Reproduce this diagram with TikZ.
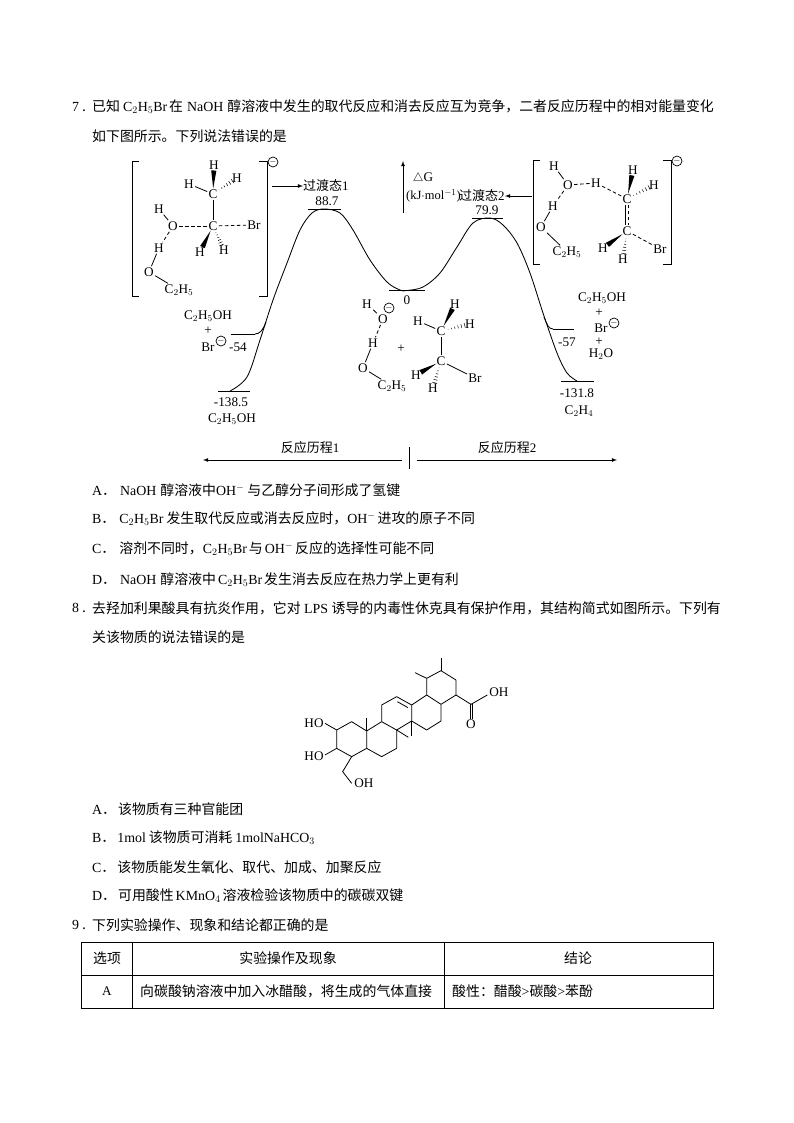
\documentclass[tikz,border=0pt]{standalone}
\usepackage{fontspec}
\setmainfont{Liberation Serif}
\newfontfamily\cjk{Noto Sans CJK SC}
\newfontfamily\ser{Liberation Serif}
\usetikzlibrary{arrows,calc}
\tikzset{
	body/.style={anchor=west,inner sep=0pt,font=\cjk\fontsize{13.9}{16}\selectfont},
	cell/.style={inner sep=0pt,font=\cjk\fontsize{13.9}{16}\selectfont},
	zhlab/.style={inner sep=0pt,font=\cjk\fontsize{13}{15}\selectfont},
	lab/.style={inner sep=0pt,font=\ser\fontsize{13.2}{14}\selectfont},
	atom/.style={inner sep=1.2pt,font=\ser\fontsize{13.2}{14}\selectfont},
	neg/.style={circle,draw,line width=0.7pt,inner sep=0pt,minimum size=10pt,font=\fontsize{9}{9}\selectfont},
	bond/.style={line width=0.8pt},
	hbond/.style={line width=0.8pt,dash pattern=on 3.5pt off 2.5pt},
	level/.style={line width=0.8pt},
	curve/.style={line width=0.85pt,line join=round},
	ruleline/.style={line width=0.9pt}
}
\newcommand{\wedgeb}[2]{
	\coordinate (wa) at ($(#1)!5.5pt!(#2)$);
	\coordinate (wb) at ($(#2)!5.5pt!(#1)$);
	\fill (wa) -- ($(wb)!2.6pt!90:(wa)$) -- ($(wb)!2.6pt!-90:(wa)$) -- cycle;
}
\newcommand{\hashb}[2]{
	\coordinate (wa) at ($(#1)!5.5pt!(#2)$);
	\coordinate (wb) at ($(#2)!5.5pt!(#1)$);
	\coordinate (wl) at ($(wb)!2.4pt!90:(wa)$);
	\coordinate (wr) at ($(wb)!2.4pt!-90:(wa)$);
	\foreach \t in {0.1,0.28,0.46,0.64,0.82,1} \draw [line width=0.5pt] ($(wa)!\t!(wl)$) -- ($(wa)!\t!(wr)$);
}
\begin{document}
\begin{tikzpicture}[x=1pt,y=-1pt]
	\useasboundingbox (0,0) rectangle (794,1123);
	\fill [white] (0,0) rectangle (794,1123);
	% question 7
	\node [body] (q7a) at (72,107) {{\ser 7}\hspace{3pt}.};
	\node [body] (q7b) at (92,107) {已知\hspace{3pt}{\ser C$_2$H$_5$Br}\hspace{2pt}在\hspace{4pt}{\ser NaOH}\hspace{4pt}醇溶液中发生的取代反应和消去反应互为竞争，二者反应历程中的相对能量变化};
	\node [body] (q7c) at (92,136) {如下图所示。下列说法错误的是};
	% left transition state
	\draw [bond] (139,161) -- (132,161) -- (132,296) -- (139,296);
	\draw [bond] (259,161) -- (267,161) -- (267,296) -- (259,296);
	\node [neg] (tsaneg) at (273,162) {$-$};
	\node [atom] (tsah1) at (214,165) {H};
	\node [atom] (tsah2) at (189,184) {H};
	\node [atom] (tsah3) at (237,178) {H};
	\node [atom] (tsac1) at (213,194) {C};
	\node [atom] (tsac2) at (213,226) {C};
	\node [atom] (tsabr) at (254,225) {Br};
	\node [atom] (tsao1) at (173,226) {O};
	\node [atom] (tsah4) at (159,209) {H};
	\node [atom] (tsah5) at (159,248) {H};
	\node [atom] (tsao2) at (149,272) {O};
	\node [atom] (tsaet) at (179,290) {C$_2$H$_5$};
	\node [atom] (tsah6) at (200,252) {H};
	\node [atom] (tsah7) at (224,250) {H};
	\draw [bond] (tsah2) -- (tsac1);
	\draw [bond] (tsac1) -- (tsac2);
	\draw [hbond] (tsao1) -- (tsac2);
	\draw [hbond] (tsac2) -- (tsabr);
	\draw [bond] (tsah4) -- (tsao1);
	\draw [hbond] (tsao1) -- (tsah5);
	\draw [bond] (tsah5) -- (tsao2);
	\draw [bond] (tsao2) -- (tsaet);
	\wedgeb{tsac1}{tsah1}
	\hashb{tsac1}{tsah3}
	\wedgeb{tsac2}{tsah6}
	\hashb{tsac2}{tsah7}
	% energy profile
	\draw [curve] plot [smooth,tension=0.55] coordinates {(230,391) (247,377) (260,340) (273,300) (287,263) (300,230) (312,213) (324,209) (340,213) (353,230) (370,260) (387,282) (400,290) (407,290.5) (423,287) (440,273) (457,247) (473,223) (490,218) (503,225) (517,243) (530,273) (543,313) (557,353) (567,373) (577,381)};
	\draw [curve] (255,334) .. controls (260,334) and (263,330) .. (266,322);
	\draw [curve] (553,329) .. controls (549,329) and (547,325) .. (544,317);
	\draw [level] (218,391) -- (250,391);
	\draw [level] (231,334) -- (255,334);
	\draw [level] (308,209) -- (341,209);
	\draw [level] (389,290) -- (425,290);
	\draw [level] (472,218) -- (503,218);
	\draw [level] (553,329) -- (574,329);
	\draw [level] (561,381) -- (594,381);
	\coordinate (tsaout) at (272,186);
	\node [zhlab,anchor=west] (tsalab) at (303,186) {过渡态{\ser 1}};
	\draw [bond,-latex] (tsaout) -- (tsalab.west);
	\node [lab] (ea) at (327,201) {88.7};
	\node [lab] (eb) at (407,300) {0};
	\node [lab] (ec) at (487,210) {79.9};
	\node [lab] (ed) at (238,347) {-54};
	\node [lab] (ee) at (231,402) {-138.5};
	\node [lab] (ef) at (567,342) {-57};
	\node [lab] (eg) at (577,393) {-131.8};
	\node [lab] (pa) at (208,316) {C$_2$H$_5$OH};
	\node [lab] (pb) at (208,331) {+};
	\node [lab] (pc) at (208,347) {Br};
	\node [neg] (pcneg) at (221,341) {$-$};
	\node [lab] (pd) at (232,419) {C$_2$H$_5$OH};
	\node [lab] (qa) at (602,298) {C$_2$H$_5$OH};
	\node [lab] (qb) at (599,313) {+};
	\node [lab] (qc) at (601,328) {Br};
	\node [neg] (qcneg) at (614,323) {$-$};
	\node [lab] (qd) at (599,342) {+};
	\node [lab] (qe) at (601,354) {H$_2$O};
	\node [lab] (qf) at (579,411) {C$_2$H$_4$};
	% axis
	\coordinate (axisa) at (403,213);
	\coordinate (axisb) at (403,161);
	\draw [bond,-latex] (axisa) -- (axisb);
	\node [lab] (dg) at (423,178) {$\triangle$G};
	\node [lab,anchor=west,font=\ser\fontsize{12.5}{14}\selectfont] (unit) at (406,196) {(kJ$\cdot$mol$^{-1}$)};
	\node [zhlab,anchor=west] (tsblab) at (459,196) {过渡态{\ser 2}};
	% middle species
	\node [atom] (mh1) at (367,304) {H};
	\node [atom] (mo1) at (383,319) {O};
	\node [neg] (moneg) at (389,308) {$-$};
	\node [atom] (mh2) at (373,343) {H};
	\node [atom] (mo2) at (363,368) {O};
	\node [atom] (met) at (392,386) {C$_2$H$_5$};
	\node [lab] (mplus) at (401,349) {+};
	\draw [bond] (mh1) -- (mo1);
	\draw [hbond] (mo1) -- (mh2);
	\draw [bond] (mh2) -- (mo2);
	\draw [bond] (mo2) -- (met);
	\node [atom] (nc1) at (441,331) {C};
	\node [atom] (nc2) at (441,361) {C};
	\node [atom] (nh1) at (455,304) {H};
	\node [atom] (nh2) at (418,321) {H};
	\node [atom] (nh3) at (470,324) {H};
	\node [atom] (nh4) at (416,375) {H};
	\node [atom] (nh5) at (433,388) {H};
	\node [atom] (nbr) at (475,378) {Br};
	\draw [bond] (nh2) -- (nc1);
	\draw [bond] (nc1) -- (nc2);
	\draw [bond] (nc2) -- (nbr);
	\wedgeb{nc1}{nh1}
	\hashb{nc1}{nh3}
	\wedgeb{nc2}{nh4}
	\hashb{nc2}{nh5}
	% right transition state
	\draw [bond] (540,160) -- (533,160) -- (533,264) -- (540,264);
	\draw [bond] (663,160) -- (671,160) -- (671,264) -- (663,264);
	\node [neg] (tsbneg) at (677,161) {$-$};
	\coordinate (tsbout) at (532,196);
	\draw [bond,-latex] (tsbout) -- (tsblab.east);
	\node [atom] (tsbh1) at (554,166) {H};
	\node [atom] (tsbo1) at (568,185) {O};
	\node [atom] (tsbh2) at (596,183) {H};
	\node [atom] (tsbh3) at (553,206) {H};
	\node [atom] (tsbo2) at (541,227) {O};
	\node [atom] (tsbet) at (567,252) {C$_2$H$_5$};
	\node [atom] (tsbc1) at (627,199) {C};
	\node [atom] (tsbc2) at (627,231) {C};
	\node [atom] (tsbh4) at (633,170) {H};
	\node [atom] (tsbh5) at (654,185) {H};
	\node [atom] (tsbh6) at (603,248) {H};
	\node [atom] (tsbh7) at (623,259) {H};
	\node [atom] (tsbbr) at (660,249) {Br};
	\draw [bond] (tsbh1) -- (tsbo1);
	\draw [hbond] (tsbo1) -- (tsbh2);
	\draw [hbond] (tsbo1) -- (tsbh3);
	\draw [bond] (tsbh3) -- (tsbo2);
	\draw [bond] (tsbo2) -- (tsbet);
	\draw [hbond] (tsbh2) -- (tsbc1);
	\draw [bond] ([xshift=-1.3pt]tsbc1.south) -- ([xshift=-1.3pt]tsbc2.north);
	\draw [hbond] ([xshift=1.3pt]tsbc1.south) -- ([xshift=1.3pt]tsbc2.north);
	\draw [hbond] (tsbc2) -- (tsbbr);
	\wedgeb{tsbc1}{tsbh4}
	\hashb{tsbc1}{tsbh5}
	\wedgeb{tsbc2}{tsbh6}
	\hashb{tsbc2}{tsbh7}
	% pathway arrows
	\coordinate (barl) at (402,460);
	\coordinate (endl) at (203,460);
	\coordinate (barr) at (417,460);
	\coordinate (endr) at (617,460);
	\coordinate (bara) at (409,447);
	\coordinate (barb) at (409,469);
	\draw [bond,-latex] (barl) -- (endl);
	\draw [bond,-latex] (barr) -- (endr);
	\draw [line width=1pt] (bara) -- (barb);
	\node [zhlab] (patha) at (310,448) {反应历程{\ser 1}};
	\node [zhlab] (pathb) at (507,448) {反应历程{\ser 2}};
	% options of 7
	\node [body] (o7a) at (92,490) {{\ser A}．\hspace{4pt}{\ser NaOH}\hspace{4pt}醇溶液中{\ser OH$^-$}\hspace{3pt}与乙醇分子间形成了氢键};
	\node [body] (o7b) at (92,519) {{\ser B}．\hspace{4pt}{\ser C$_2$H$_5$Br}\hspace{3pt}发生取代反应或消去反应时，{\ser OH$^-$}\hspace{2pt}进攻的原子不同};
	\node [body] (o7c) at (92,549) {{\ser C}．\hspace{4pt}溶剂不同时，{\ser C$_2$H$_5$Br}\hspace{2pt}与\hspace{2pt}{\ser OH$^-$}\hspace{2pt}反应的选择性可能不同};
	\node [body] (o7d) at (92,580) {{\ser D}．\hspace{4pt}{\ser NaOH}\hspace{4pt}醇溶液中\hspace{2pt}{\ser C$_2$H$_5$Br}\hspace{2pt}发生消去反应在热力学上更有利};
	% question 8
	\node [body] (q8a) at (72,608) {{\ser 8}\hspace{3pt}.};
	\node [body] (q8b) at (92,608) {去羟加利果酸具有抗炎作用，它对\hspace{3.5pt}{\ser LPS}\hspace{3.5pt}诱导的内毒性休克具有保护作用，其结构简式如图所示。下列有};
	\node [body] (q8c) at (92,637) {关该物质的说法错误的是};
	% skeleton
	\begin{scope}[x=0.3333pt,y=-0.3333pt,shift={(290pt,-650pt)}]
		\draw [bond] (453,25) -- (453,62);
		\draw [bond,line join=round] (453,62) -- (498,90) -- (498,135) -- (453,163) -- (410,135) -- (410,85) -- cycle;
		\draw [bond] (410,85) -- (375,68);
		\draw [bond] (498,135) -- (543,163) -- (592,135);
		\draw [bond] (540,163) -- (540,208);
		\draw [bond] (547,163) -- (547,208);
		\draw [bond,line join=round] (410,135) -- (365,165) -- (365,213) -- (410,240) -- (453,213) -- (453,163);
		\draw [bond,line join=round] (365,165) -- (320,140) -- (275,165) -- (275,215) -- (320,240) -- (365,213);
		\draw [bond] (322,155) -- (354,173);
		\draw [bond] (365,213) -- (365,257);
		\draw [bond] (320,240) -- (355,262);
		\draw [bond,line join=round] (275,215) -- (230,243) -- (230,295) -- (275,320) -- (320,295) -- (320,240);
		\draw [bond,line join=round] (230,243) -- (185,215) -- (140,240) -- (140,295) -- (185,320) -- (230,295);
		\draw [bond] (230,243) -- (230,205);
		\draw [bond] (140,240) -- (105,220);
		\draw [bond] (140,295) -- (105,315);
		\draw [bond] (185,320) -- (158,365) -- (185,400);
		\node [lab] (soh) at (627,128) {OH};
		\node [lab] (sod) at (543,222) {O};
		\node [lab] (sha) at (72,220) {HO};
		\node [lab] (shb) at (72,320) {HO};
		\node [lab] (shc) at (222,400) {OH};
	\end{scope}
	% options of 8
	\node [body] (o8a) at (92,809) {{\ser A}．\hspace{2pt}该物质有三种官能团};
	\node [body] (o8b) at (92,838) {{\ser B}．\hspace{2pt}{\ser 1mol}\hspace{3pt}该物质可消耗\hspace{3pt}{\ser 1molNaHCO$_3$}};
	\node [body] (o8c) at (92,867) {{\ser C}．\hspace{2pt}该物质能发生氧化、取代、加成、加聚反应};
	\node [body] (o8d) at (92,896) {{\ser D}．\hspace{2pt}可用酸性\hspace{2pt}{\ser KMnO$_4$}\hspace{2pt}溶液检验该物质中的碳碳双键};
	% question 9 and table
	\node [body] (q9a) at (72,925) {{\ser 9}\hspace{3pt}.};
	\node [body] (q9b) at (92,925) {下列实验操作、现象和结论都正确的是};
	\draw [ruleline] (81,942) rectangle (713,1008);
	\draw [ruleline] (81,975) -- (713,975);
	\draw [ruleline] (132,942) -- (132,1008);
	\draw [ruleline] (444,942) -- (444,1008);
	\node [cell] (th1) at (107,958) {选项};
	\node [cell] (th2) at (288,958) {实验操作及现象};
	\node [cell] (th3) at (578,958) {结论};
	\node [lab] (td1) at (107,991) {A};
	\node [cell,anchor=west] (td2) at (140,991) {向碳酸钠溶液中加入冰醋酸，将生成的气体直接};
	\node [cell,anchor=west] (td3) at (452,991) {酸性：醋酸{\ser >}碳酸{\ser >}苯酚};
\end{tikzpicture}
\end{document}
